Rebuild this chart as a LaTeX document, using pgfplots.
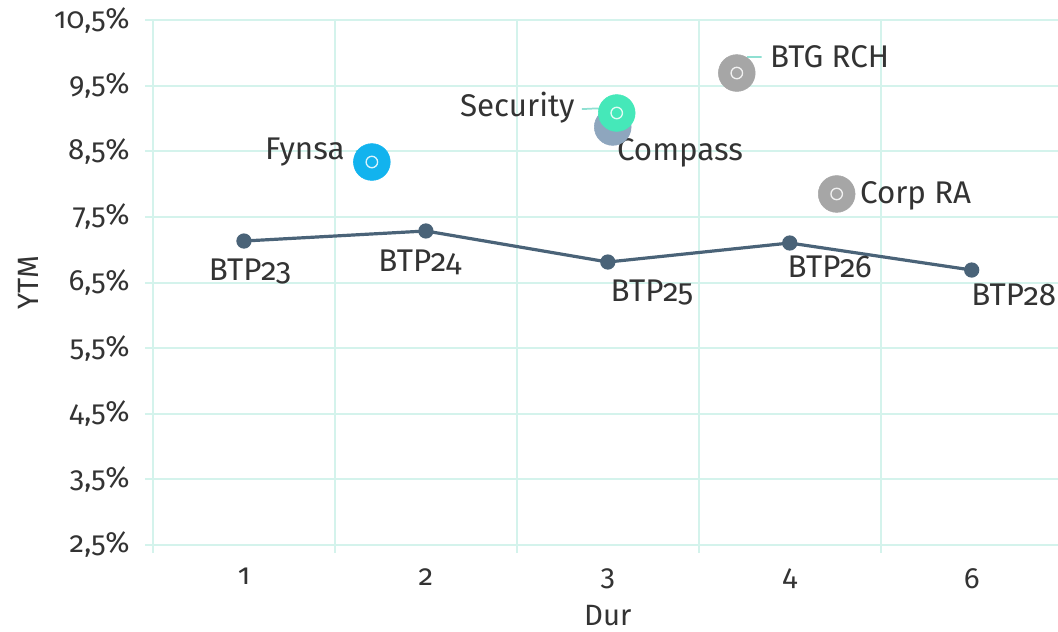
\documentclass[border=0pt]{standalone}
\usepackage{pgfplots}
\pgfplotsset{compat=1.18}
\usepackage{fontspec}
\setmainfont{Fira Sans}[Numbers=OldStyle]
\definecolor{gridc}{HTML}{D4F3EC}
\definecolor{txt}{HTML}{333333}
\definecolor{linec}{HTML}{4A6378}
\definecolor{fynsa}{HTML}{12B3EE}
\definecolor{secur}{HTML}{45E8B9}
\definecolor{compass}{HTML}{8EA6BE}
\definecolor{grayc}{HTML}{A6A6A6}
\definecolor{leader}{HTML}{8FE0D2}
\begin{document}
\begin{tikzpicture}
\useasboundingbox (0,0) rectangle (793.5bp,474bp);
\begin{axis}[
  at={(114.75bp,65.25bp)}, anchor=south west,
  scale only axis, width=679.5bp, height=393.75bp,
  xmin=0.5, xmax=5.48, ymin=2.5, ymax=10.5,
  clip=false,
  xtick={1,2,3,4,5}, xticklabels={1,2,3,4,6},
  minor xtick={0.5,1.5,2.5,3.5,4.5,5.5},
  ytick={2.5,3.5,4.5,5.5,6.5,7.5,8.5,9.5,10.5},
  /pgf/number format/assume math mode=true,
  yticklabel={\pgfmathprintnumber[fixed,fixed zerofill,precision=1,use comma]{\tick}\%},
  xminorgrids=true, ymajorgrids=true, xmajorgrids=false,
  grid style={gridc, line width=1.5bp},
  minor grid style={gridc, line width=1.5bp},
  axis line style={gridc, line width=1.5bp},
  tick align=outside, tick pos=left,
  major tick length=6bp, minor tick length=6bp,
  major x tick style={draw=none},
  every tick/.style={gridc, line width=1.5bp},
  tick label style={font=\fontsize{22bp}{24bp}\selectfont, text=txt},
  xticklabel style={yshift=-8bp},
  yticklabel style={xshift=-8bp},
  label style={font=\fontsize{22bp}{24bp}\selectfont, text=txt},
  xlabel={Dur}, ylabel={YTM},
  xlabel style={at={(axis description cs:0.502,-0.135)}, anchor=center},
  ylabel style={at={(axis description cs:-0.138,0.5)}, anchor=center},
]
% Benchmark curve
\addplot[color=linec, line width=2.4bp, mark=*, mark size=4.5bp, mark options={fill=linec}]
  coordinates {(1,7.132) (2,7.285) (3,6.812) (4,7.102) (5,6.690)};
% Issuers
\addplot[only marks, mark=*, mark size=13.8bp, color=fynsa] coordinates {(1.703,8.336)};
\addplot[only marks, mark=*, mark size=13.8bp, color=compass] coordinates {(3.027,8.870)};
\addplot[only marks, mark=*, mark size=13.8bp, color=secur] coordinates {(3.049,9.083)};
\addplot[only marks, mark=*, mark size=13.8bp, color=grayc] coordinates {(3.709,9.692)};
\addplot[only marks, mark=*, mark size=13.8bp, color=grayc] coordinates {(4.258,7.849)};
% leaders
\draw[leader, line width=1.3bp] (axis cs:1.615,8.504) -- (axis cs:1.654,8.504) to[out=0,in=110] (axis cs:1.703,8.336);
\draw[leader, line width=1.3bp] (axis cs:2.857,9.144) to[out=0,in=150] (axis cs:3.049,9.083);
\draw[leader, line width=1.3bp] (axis cs:3.846,9.936) -- (axis cs:3.769,9.936) -- (axis cs:3.709,9.692);
\addplot[only marks, mark=o, mark size=4.3bp, white, line width=1bp, opacity=0.85]
  coordinates {(1.703,8.336) (3.049,9.083) (3.709,9.692) (4.258,7.849)};
% labels
\begin{scope}[every node/.style={font=\fontsize{23.5bp}{25bp}\selectfont, text=txt, inner sep=0pt}]
\node[anchor=east] at (axis cs:1.555,8.489) {Fynsa};
\node[anchor=east] at (axis cs:2.819,9.159) {Security};
\node[anchor=west] at (axis cs:3.049,8.473) {Compass};
\node[anchor=west] at (axis cs:3.890,9.936) {BTG RCH};
\node[anchor=west] at (axis cs:4.385,7.818) {Corp RA};
\node at (axis cs:1.033,6.660) {BTP23};
\node at (axis cs:1.967,6.812) {BTP24};
\node at (axis cs:3.242,6.340) {BTP25};
\node at (axis cs:4.220,6.736) {BTP26};
\node at (axis cs:5.231,6.310) {BTP28};
\end{scope}
\end{axis}
\end{tikzpicture}
\end{document}
